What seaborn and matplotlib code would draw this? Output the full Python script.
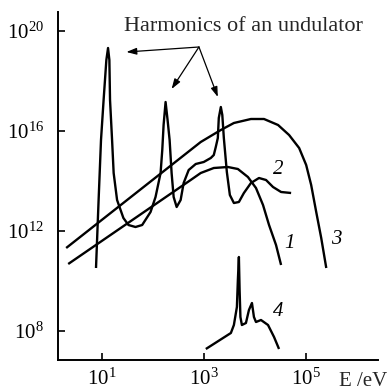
import numpy as np
import pandas as pd
import matplotlib
matplotlib.use("Agg")
import matplotlib.pyplot as plt
import seaborn as sns
from matplotlib.ticker import FixedLocator, FuncFormatter, NullLocator

# ---- data (log10 of photon energy in eV, log10 of flux) ----
und_logE = [0.882, 0.933, 0.980, 1.031, 1.085, 1.118, 1.144, 1.157, 1.197, 1.228,
            1.295, 1.419, 1.518, 1.656, 1.787, 1.951, 2.049, 2.148, 2.181, 2.207,
            2.246, 2.285, 2.325, 2.364, 2.404, 2.463, 2.541, 2.600, 2.699, 2.837,
            2.994, 3.132, 3.191, 3.230, 3.270, 3.289, 3.329, 3.358, 3.388, 3.447,
            3.506, 3.585, 3.683, 3.781, 3.919, 4.077, 4.215, 4.352, 4.510, 4.707]
und_logF = [10.52, 13.24, 15.64, 17.24, 18.84, 19.32, 18.84, 17.24, 15.64, 14.32,
            13.24, 12.52, 12.24, 12.16, 12.24, 12.76, 13.36, 14.32, 15.24, 16.24,
            17.16, 16.44, 15.64, 14.32, 13.36, 12.96, 13.24, 13.92, 14.44, 14.68,
            14.76, 14.92, 15.04, 15.36, 15.72, 16.52, 16.96, 16.64, 15.72, 14.36,
            13.44, 13.12, 13.16, 13.52, 13.92, 14.12, 14.04, 13.76, 13.56, 13.52]

bm_logE = [0.337, 2.738, 2.935, 3.191, 3.467, 3.663, 3.860, 4.018, 4.156, 4.274, 4.411, 4.510]
bm_logF = [10.68, 14.04, 14.32, 14.52, 14.56, 14.48, 14.16, 13.72, 13.04, 12.24, 11.44, 10.64]

wig_logE = [0.297, 2.935, 3.329, 3.585, 3.919, 4.175, 4.451, 4.667, 4.864, 5.002,
            5.100, 5.199, 5.297, 5.396]
wig_logF = [11.32, 15.56, 16.04, 16.32, 16.48, 16.48, 16.24, 15.84, 15.32, 14.64,
            13.84, 12.76, 11.72, 10.52]

tube_logE = [3.035, 3.526, 3.585, 3.644, 3.663, 3.683, 3.697, 3.713, 3.742, 3.821,
             3.880, 3.939, 3.978, 4.018, 4.116, 4.254, 4.372, 4.470]
tube_logF = [7.28, 7.92, 8.24, 8.96, 10.04, 10.96, 9.64, 8.56, 8.24, 8.32,
             8.84, 9.12, 8.56, 8.36, 8.44, 8.24, 7.76, 7.28]

curve_labels = ["1", "2", "3", "4"]
label_logE = [4.667, 4.455, 5.592, 4.455]
label_logF = [11.52, 14.44, 11.64, 8.76]

x_ticks_exp = [1, 3, 5]
y_ticks_exp = [8, 12, 16, 20]

annot_text = "Harmonics of an undulator"
arrow_origin = (2.90, 19.36)
arrow_targets_logE = [1.478, 2.364, 3.270]
arrow_targets_logF = [19.16, 17.68, 17.36]
xlabel_text = "E /eV"

# ---- style ----
sns.set_style("ticks")
plt.rcParams["font.family"] = ["Liberation Serif", "DejaVu Serif"]
plt.rcParams["mathtext.fontset"] = "custom"
plt.rcParams["mathtext.rm"] = "Liberation Serif"
plt.rcParams["mathtext.it"] = "Liberation Serif:italic"
plt.rcParams["mathtext.bf"] = "Liberation Serif:bold"

fig = plt.figure(figsize=(3.89, 3.92), dpi=100)
ax = fig.add_axes([58 / 389, 32 / 392, 320 / 389, 348 / 392])

def make_df(le, lf):
    return pd.DataFrame({"E": np.power(10.0, le), "F": np.power(10.0, lf)})

for le, lf in [(und_logE, und_logF), (bm_logE, bm_logF),
               (wig_logE, wig_logF), (tube_logE, tube_logF)]:
    sns.lineplot(data=make_df(le, lf), x="E", y="F", ax=ax, sort=False,
                 estimator=None, color="black", lw=1.7,
                 solid_joinstyle="round", solid_capstyle="butt")

ax.set_xscale("log")
ax.set_yscale("log")
ax.set_xlim(10 ** 0.137, 10 ** 6.41)
ax.set_ylim(10 ** 6.84, 10 ** 20.76)

ax.xaxis.set_major_locator(FixedLocator([10.0 ** e for e in x_ticks_exp]))
ax.yaxis.set_major_locator(FixedLocator([10.0 ** e for e in y_ticks_exp]))
ax.xaxis.set_minor_locator(NullLocator())
ax.yaxis.set_minor_locator(NullLocator())
fmt = FuncFormatter(lambda v, p: r"$10^{%d}$" % int(round(np.log10(v))))
ax.xaxis.set_major_formatter(fmt)
ax.yaxis.set_major_formatter(fmt)
ax.tick_params(axis="both", direction="in", length=5, width=1.2,
               labelsize=15, colors="black")
ax.tick_params(axis="x", pad=6)
ax.tick_params(axis="y", pad=10)
ax.set_xlabel("")
ax.set_ylabel("")

for s in ["top", "right"]:
    ax.spines[s].set_visible(False)
for s in ["left", "bottom"]:
    ax.spines[s].set_linewidth(1.4)
    ax.spines[s].set_color("black")

# curve numbers
for lab, le, lf in zip(curve_labels, label_logE, label_logF):
    ax.text(10 ** le, 10 ** lf, lab, fontsize=15, style="italic",
            ha="center", va="center", color="black")

# annotation
ax.text(10 ** 1.44, 1e20, annot_text, fontsize=16, ha="left", va="baseline")
for te, tf in zip(arrow_targets_logE, arrow_targets_logF):
    ax.annotate("", xy=(10 ** te, 10 ** tf),
                xytext=(10 ** arrow_origin[0], 10 ** arrow_origin[1]),
                arrowprops=dict(arrowstyle="-|>,head_length=0.6,head_width=0.2",
                                lw=0.9, color="black", shrinkA=0, shrinkB=0))

fig.text(339 / 389, (392 - 386) / 392, xlabel_text, fontsize=15,
         ha="left", va="baseline")

fig.savefig("out.png", dpi=100)
